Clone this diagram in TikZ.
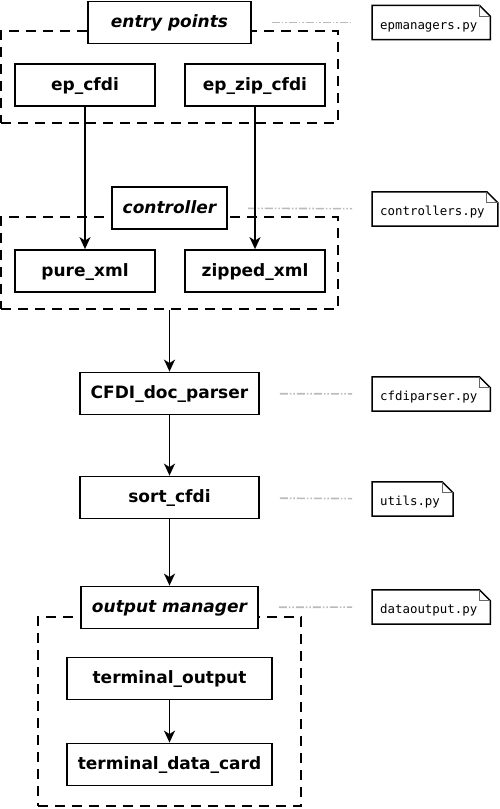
\documentclass[tikz,border=0pt]{standalone}
\usepackage{fontspec}
\setmainfont{DejaVu Sans}
\setmonofont{DejaVu Sans Mono}
\usetikzlibrary{arrows.meta,positioning}
\tikzset{
    module/.style = {rectangle,
                    fill=white,
                    draw=black,
                    text=black,
                    line width=1.8pt,
                    inner sep=0pt,
                    text height=13pt,
                    text depth=3pt,
                    minimum height=42pt,
                    font=\fontsize{17}{20}\selectfont\bfseries},
    manager/.style = {module,
                    font=\fontsize{17}{20}\selectfont\bfseries\itshape},
    group/.style =  {rectangle,
                    draw=black,
                    line width=1.8pt,
                    dash pattern=on 10pt off 7pt,
                    inner sep=0pt},
    note/.style =   {rectangle,
                    anchor=west,
                    inner xsep=8pt,
                    inner ysep=0pt,
                    text height=16pt,
                    text depth=3pt,
                    minimum height=34pt,
                    execute at end node={\hspace*{5pt}},
                    font=\fontsize{12.4}{14}\selectfont\ttfamily},
    notefold/.style = {draw=black, line width=1.5pt, line join=miter},
    link/.style =   {draw=black!27,
                    line width=1.6pt,
                    dash pattern=on 8pt off 2pt on 1.5pt off 2pt on 1.5pt off 2pt,
                    shorten <=20pt,
                    shorten >=20pt},
    flow/.style =   {->, line width=1.8pt},
    >={Stealth[length=12pt,width=11pt,inset=3.5pt]}}

\begin{document}
\begin{tikzpicture}[x=1pt,y=-1pt]
    \useasboundingbox (0,0) rectangle (499,809);
    % groups
    \node[group, minimum width=337pt, minimum height=92pt]  (epgrp)   at (169.5,77)    {};
    \node[group, minimum width=337pt, minimum height=92pt]  (ctrlgrp) at (169.5,263)   {};
    \node[group, minimum width=263pt, minimum height=189pt] (outgrp)  at (169.5,711.5) {};
    % modules
    \node[manager, minimum width=163pt] (entry)    at (169.5,22.5) {entry points};
    \node[module,  minimum width=140pt] (epcfdi)   at (85,85)      {ep\_cfdi};
    \node[module,  minimum width=140pt] (epzip)    at (255,85)     {ep\_zip\_cfdi};
    \node[manager, minimum width=115pt] (ctrl)     at (169.5,208)  {controller};
    \node[module,  minimum width=140pt] (purexml)  at (85,271)     {pure\_xml};
    \node[module,  minimum width=140pt] (zipxml)   at (255,271)    {zipped\_xml};
    \node[module,  minimum width=179pt] (parser)   at (169.5,393.5) {CFDI\_doc\_parser};
    \node[module,  minimum width=179pt] (sort)     [below of=parser, node distance=104pt] {sort\_cfdi};
    \node[manager, minimum width=177pt] (outmgr)   [below of=sort, node distance=110pt]   {output manager};
    \node[module,  minimum width=205pt] (termout)  at (169.5,678.5) {terminal\_output};
    \node[module,  minimum width=205pt] (termcard) [below of=termout, node distance=86pt] {terminal\_data\_card};
    % files
    \node[note] (epnote)    at (372,22.5) {epmanagers.py};
    \node[note] (ctrlnote)  at (372,209)  {controllers.py};
    \node[note] (parsenote) at (372,394)  {cfdiparser.py};
    \node[note] (utilnote)  at (372,499)  {utils.py};
    \node[note] (outnote)   at (372,607)  {dataoutput.py};
    \foreach \n in {epnote,ctrlnote,parsenote,utilnote,outnote}{
        \draw[notefold] (\n.south west) -- (\n.north west) -- ([xshift=-11pt]\n.north east)
            -- ([yshift=-11pt]\n.north east) -- (\n.south east) -- cycle;
        \draw[black!60, line width=1pt] ([xshift=-11pt]\n.north east) |- ([yshift=-11pt]\n.north east);
    }
    \path[link] (entry)  edge (epnote)
                (ctrl)   edge (ctrlnote)
                (parser) edge (parsenote)
                (sort)   edge (utilnote)
                (outmgr) edge (outnote);
    \path[flow] (epcfdi)   edge (purexml)
                (epzip)    edge (zipxml)
                (ctrlgrp.south) edge (parser)
                (parser)   edge (sort)
                (sort)     edge (outmgr)
                (termout)  edge (termcard);
\end{tikzpicture}
\end{document}
